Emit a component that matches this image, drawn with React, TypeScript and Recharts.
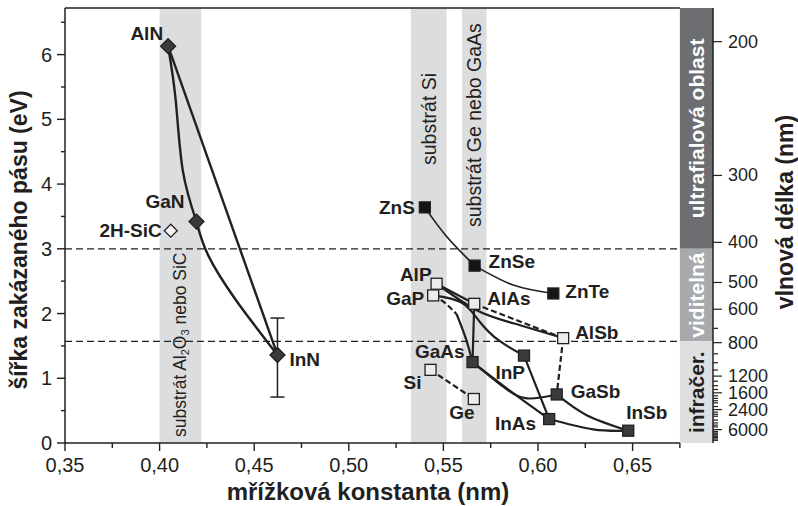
import React from "react";
import {
  ComposedChart,
  XAxis,
  YAxis,
  Line,
  Scatter,
  ErrorBar,
  ReferenceArea,
  ReferenceLine,
} from "recharts";

const INK = "#231f20";
const FONT = "'Liberation Sans', Arial, Helvetica, sans-serif";

type Pt = [number, number];

// materials: lattice constant (nm) vs band gap (eV)
const materials = ["AlN", "GaN", "2H-SiC", "InN", "ZnS", "ZnSe", "ZnTe", "AlP", "GaP", "AlAs", "AlSb", "GaAs", "InP", "GaSb", "InAs", "InSb", "Si", "Ge"];
const latticeNm = [0.4045, 0.4195, 0.4059, 0.4623, 0.5402, 0.5665, 0.6081, 0.5464, 0.5446, 0.5663, 0.6133, 0.5654, 0.5926, 0.6099, 0.6059, 0.6477, 0.5432, 0.5661];
const gapEv = [6.13, 3.42, 3.28, 1.36, 3.64, 2.74, 2.31, 2.46, 2.28, 2.15, 1.62, 1.25, 1.35, 0.75, 0.37, 0.19, 1.13, 0.68];

// InN band gap uncertainty (below, above)
const innErrEv: Pt = [0.65, 0.57];

// points (between the end compounds)
const alnGanPts: Pt[] = [[0.4085, 5.3], [0.4122, 4.22]];
const ganInnPts: Pt[] = [[0.4255, 2.91], [0.4403, 2.21]];
const znsZnsePts: Pt[] = [[0.5517, 3.19]];
const znseZntePts: Pt[] = [[0.5869, 2.44]];
const alpAlsbPts: Pt[] = [[0.5676, 2.05], [0.5869, 1.85]];
const gapGaasIndirect: Pt[] = [[0.5508, 2.165]];
const gapGaasBreak: Pt = [0.557, 1.99];
const gapGaasDirect: Pt[] = [[0.5618, 1.62]];
const gapInpPts: Pt[] = [[0.5598, 2.165], [0.5693, 1.87], [0.5795, 1.58]];
const gaasGasbPts: Pt[] = [[0.5816, 0.87], [0.594, 0.69]];
const gaasInasPts: Pt[] = [[0.5869, 0.77]];
const gasbInsbPts: Pt[] = [[0.6257, 0.43]];
const inasInsbPts: Pt[] = [[0.6292, 0.21]];

// substrate bands (nm)
const substrateFrom = [0.4, 0.5328, 0.5598];
const substrateTo = [0.422, 0.5517, 0.5728];

// spectral region edges (eV)
const uvEdgeEv = 3.0;
const irEdgeEv = 1.57;

const xTicks = [0.35, 0.375, 0.4, 0.425, 0.45, 0.475, 0.5, 0.525, 0.55, 0.575, 0.6, 0.625, 0.65, 0.675];
const yTicks = [0, 0.5, 1, 1.5, 2, 2.5, 3, 3.5, 4, 4.5, 5, 5.5, 6, 6.5];
const wlMajor = [200, 300, 400, 500, 600, 800, 1200, 1600, 2400, 6000];
const wlMinor = [700, 900, 1000, 1100, 1300, 1400, 1500, 1700, 1800, 1900, 2000, 2200, 2600, 2800, 3000, 3500, 4000, 4500, 5000, 7000, 8000, 9000, 10000, 12000, 15000, 20000, 30000];

const X_MIN = 0.35;
const X_PLOT_END = 0.675;
const X_MAX = 0.6925;
const Y_MAX = 6.72;

// --- styles (kept apart from data) ---
const markerKind: Record<string, string> = {
  AlN: "diamond", GaN: "diamond", InN: "diamond", "2H-SiC": "openDiamond",
  ZnS: "black", ZnSe: "black", ZnTe: "black",
  AlP: "open", GaP: "open", AlAs: "open", AlSb: "open", Si: "open", Ge: "open",
  GaAs: "dark", InP: "dark", GaSb: "dark", InAs: "dark", InSb: "dark",
};

const labelPlace: Record<string, [number, number, string]> = {
  AlN: [-5, -13, "end"],
  GaN: [-12, -20, "end"],
  "2H-SiC": [-9, 0, "end"],
  InN: [12, 5, "start"],
  ZnS: [-10, 0, "end"],
  ZnSe: [14, -4, "start"],
  ZnTe: [12, -2, "start"],
  AlP: [-5, -9, "end"],
  GaP: [-9, 3, "end"],
  AlAs: [13, -5, "start"],
  AlSb: [12, -6, "start"],
  GaAs: [-8, -11, "end"],
  Si: [-9, 13, "end"],
  Ge: [-12, 14, "middle"],
  InP: [1, 17, "end"],
  GaSb: [14, -3, "start"],
  InAs: [-13, 4, "end"],
  InSb: [-2, -18, "start"],
};

const at = (ref: string | Pt) => {
  if (typeof ref === "string") {
    const i = materials.indexOf(ref);
    return { x: latticeNm[i], y: gapEv[i] };
  }
  return { x: ref[0], y: ref[1] };
};

const path = (from: string | Pt, mid: Pt[], to: string | Pt) => [at(from), ...mid.map(at), at(to)];

const curves = [
  { d: path("AlN", alnGanPts, "GaN"), w: 2.4, dash: undefined, lin: false },
  { d: path("AlN", [], "InN"), w: 2.4, dash: undefined, lin: true },
  { d: path("GaN", ganInnPts, "InN"), w: 2.4, dash: undefined, lin: false },
  { d: path("ZnS", znsZnsePts, "ZnSe"), w: 1.7, dash: undefined, lin: false },
  { d: path("ZnSe", znseZntePts, "ZnTe"), w: 1.7, dash: undefined, lin: false },
  { d: path("AlP", [], "AlAs"), w: 2.2, dash: undefined, lin: true },
  { d: path("AlP", alpAlsbPts, "AlSb"), w: 2.2, dash: undefined, lin: false },
  { d: path("AlAs", [], "AlSb"), w: 2.2, dash: "6 3", lin: true },
  { d: path("GaP", gapGaasIndirect, gapGaasBreak), w: 2.2, dash: "6 3", lin: false },
  { d: path(gapGaasBreak, gapGaasDirect, "GaAs"), w: 2.2, dash: undefined, lin: false },
  { d: path("GaP", gapInpPts, "InP"), w: 2.2, dash: undefined, lin: false },
  { d: path("AlAs", [], "GaAs"), w: 2.2, dash: undefined, lin: true },
  { d: path("GaAs", gaasGasbPts, "GaSb"), w: 2.2, dash: undefined, lin: false },
  { d: path("GaAs", gaasInasPts, "InAs"), w: 2.2, dash: undefined, lin: false },
  { d: path("InP", [], "InAs"), w: 2.2, dash: undefined, lin: true },
  { d: path("AlSb", [], "GaSb"), w: 2.2, dash: "6 3", lin: true },
  { d: path("GaSb", gasbInsbPts, "InSb"), w: 2.2, dash: undefined, lin: false },
  { d: path("InAs", inasInsbPts, "InSb"), w: 2.2, dash: undefined, lin: false },
  { d: path("Si", [], "Ge"), w: 2.2, dash: "6 3", lin: true },
];

const pointData = materials.map((name, i) => ({ name, x: latticeNm[i], y: gapEv[i] }));
const innErrData = [{ x: latticeNm[3], y: gapEv[3], err: innErrEv }];

const isMult = (v: number, step: number) => Math.abs(v / step - Math.round(v / step)) < 1e-6;

const BottomTick = ({ x, y, payload }: any) => {
  const major = isMult(payload.value, 0.05);
  return (
    <g>
      <line x1={x} x2={x} y1={y} y2={y + (major ? 8 : 5)} stroke={INK} strokeWidth={1.4} />
      {major && (
        <text x={x} y={y + 29} textAnchor="middle" fontSize={20} fill={INK} fontFamily={FONT}>
          {payload.value.toFixed(2).replace(".", ",")}
        </text>
      )}
    </g>
  );
};

const TopTick = ({ x, y, payload }: any) => {
  const major = isMult(payload.value, 0.05);
  return <line x1={x} x2={x} y1={y} y2={y + (major ? 8 : 4)} stroke={INK} strokeWidth={1.4} />;
};

const LeftTick = ({ x, y, payload }: any) => {
  const major = isMult(payload.value, 1);
  return (
    <g>
      <line x1={x - (major ? 8 : 4)} x2={x} y1={y} y2={y} stroke={INK} strokeWidth={1.4} />
      {major && (
        <text x={x - 13} y={y} textAnchor="end" dominantBaseline="central" fontSize={20} fill={INK} fontFamily={FONT}>
          {payload.value}
        </text>
      )}
    </g>
  );
};

const RightTick = ({ x, y, payload }: any) => {
  const wl = Math.round(1240 / payload.value);
  const major = wlMajor.includes(wl);
  return (
    <g>
      <line x1={x} x2={x + (major ? 9 : 5)} y1={y} y2={y} stroke={INK} strokeWidth={1.2} />
      {major && (
        <text x={x + 15} y={y} dominantBaseline="central" fontSize={18} fill={INK} fontFamily={FONT}>
          {wl}
        </text>
      )}
    </g>
  );
};

const MaterialMark = (props: any) => {
  const { cx, cy, payload } = props;
  const kind = markerKind[payload.name];
  const [dx, dy, anchor] = labelPlace[payload.name];
  let mark: React.ReactNode = null;
  if (kind === "diamond" || kind === "openDiamond") {
    const r = kind === "diamond" ? 7.5 : 6.5;
    mark = (
      <polygon
        points={`${cx},${cy - r} ${cx + r},${cy} ${cx},${cy + r} ${cx - r},${cy}`}
        fill={kind === "diamond" ? "#3a3a3a" : "#f2f2f2"}
        stroke={INK}
        strokeWidth={1.3}
      />
    );
  } else {
    const s = 11;
    const fill = kind === "black" ? "#151515" : kind === "dark" ? "#3b3b3b" : "#ececec";
    mark = <rect x={cx - s / 2} y={cy - s / 2} width={s} height={s} fill={fill} stroke={INK} strokeWidth={1.3} />;
  }
  return (
    <g>
      {mark}
      <text
        x={cx + dx}
        y={cy + dy}
        textAnchor={anchor as any}
        dominantBaseline="central"
        fontSize={19}
        fontWeight="bold"
        fill={INK}
        fontFamily={FONT}
      >
        {payload.name}
      </text>
    </g>
  );
};

const bandLabel = (text: string, color: string) => (p: any) => {
  const { x, y, width, height } = p.viewBox;
  const cx = x + width / 2;
  const cy = y + height / 2;
  return (
    <text
      x={cx}
      y={cy}
      transform={`rotate(-90 ${cx} ${cy})`}
      textAnchor="middle"
      dominantBaseline="central"
      fontSize={21}
      fontWeight="bold"
      fill={color}
      fontFamily={FONT}
    >
      {text}
    </text>
  );
};

// substrate label: rotated, text starts at startY and runs upwards
const substrateLabel = (parts: [string, boolean][], startY: number, size: number) => (p: any) => {
  const { x, width } = p.viewBox;
  const cx = x + width / 2;
  return (
    <text
      x={cx}
      y={startY}
      transform={`rotate(-90 ${cx} ${startY})`}
      textAnchor="start"
      dominantBaseline="central"
      fontSize={size}
      fill={INK}
      fontFamily={FONT}
    >
      {parts.map(([t, sub], i) =>
        sub ? (
          <tspan key={i} fontSize={size * 0.63} dy={5}>
            {t}
          </tspan>
        ) : (
          <tspan key={i} dy={i > 0 && parts[i - 1][1] ? -5 : 0}>
            {t}
          </tspan>
        )
      )}
    </text>
  );
};

const axisTitle = (text: string, dx: number, dy: number, rotate: boolean, size: number) => (p: any) => {
  const { x, y } = p.viewBox;
  const cx = x + dx;
  const cy = y + dy;
  return (
    <text
      x={cx}
      y={cy}
      transform={rotate ? `rotate(-90 ${cx} ${cy})` : undefined}
      textAnchor="middle"
      dominantBaseline="central"
      fontSize={size}
      fontWeight="bold"
      fill={INK}
      fontFamily={FONT}
    >
      {text}
    </text>
  );
};

const App = () => (
  <div style={{ position: "absolute", left: 0, top: 0, background: "#fff" }}>
    <ComposedChart width={798} height={506} margin={{ top: 8, right: 0, bottom: 0, left: 0 }}>
      <XAxis
        type="number"
        dataKey="x"
        domain={[X_MIN, X_MAX]}
        ticks={xTicks}
        interval={0}
        allowDataOverflow
        height={63}
        axisLine={false}
        tickLine={false}
        tickSize={0}
        tickMargin={0}
        tick={BottomTick}
        label={axisTitle("mřížková konstanta (nm)", 303, 48, false, 24)}
      />
      <XAxis
        xAxisId="top"
        orientation="top"
        type="number"
        dataKey="x"
        domain={[X_MIN, X_MAX]}
        ticks={xTicks}
        interval={0}
        allowDataOverflow
        height={0}
        axisLine={false}
        tickLine={false}
        tickSize={0}
        tickMargin={0}
        tick={TopTick}
      />
      <YAxis
        type="number"
        domain={[0, Y_MAX]}
        ticks={yTicks}
        interval={0}
        allowDataOverflow
        width={65}
        axisLine={{ stroke: INK, strokeWidth: 1.5 }}
        tickLine={false}
        tickSize={0}
        tickMargin={0}
        tick={LeftTick}
        label={axisTitle("šířka zakázaného pásu (eV)", 19, 232, true, 23)}
      />
      <YAxis
        yAxisId="right"
        orientation="right"
        type="number"
        domain={[0, Y_MAX]}
        ticks={[...wlMajor, ...wlMinor].map((l) => 1240 / l)}
        interval={0}
        allowDataOverflow
        width={85}
        axisLine={{ stroke: INK, strokeWidth: 1.5 }}
        tickLine={false}
        tickSize={0}
        tickMargin={0}
        tick={RightTick}
        label={axisTitle("vlnová délka (nm)", 72, 204, true, 23)}
      />

      <ReferenceArea
        x1={substrateFrom[0]}
        x2={substrateTo[0]}
        fill="#dcdddf"
        fillOpacity={1}
        stroke="none"
        label={substrateLabel([["substrát Al", false], ["2", true], ["O", false], ["3", true], [" nebo SiC", false]], 437, 17.5)}
      />
      <ReferenceArea
        x1={substrateFrom[1]}
        x2={substrateTo[1]}
        fill="#dcdddf"
        fillOpacity={1}
        stroke="none"
        label={substrateLabel([["substrát Si", false]], 165, 19.5)}
      />
      <ReferenceArea
        x1={substrateFrom[2]}
        x2={substrateTo[2]}
        fill="#dcdddf"
        fillOpacity={1}
        stroke="none"
        label={substrateLabel([["substrát Ge nebo GaAs", false]], 227, 19.5)}
      />

      <ReferenceArea x1={X_PLOT_END} x2={X_MAX} y1={uvEdgeEv} y2={Y_MAX} fill="#6d6e71" fillOpacity={1} stroke="none" label={bandLabel("ultrafialová oblast", "#ffffff")} />
      <ReferenceArea x1={X_PLOT_END} x2={X_MAX} y1={irEdgeEv} y2={uvEdgeEv} fill="#a7a9ac" fillOpacity={1} stroke="none" label={bandLabel("viditelná", "#ffffff")} />
      <ReferenceArea x1={X_PLOT_END} x2={X_MAX} y1={0} y2={irEdgeEv} fill="#dedfe0" fillOpacity={1} stroke="none" label={bandLabel("infračer.", INK)} />

      <ReferenceLine segment={[{ x: X_MIN, y: uvEdgeEv }, { x: X_PLOT_END, y: uvEdgeEv }]} stroke={INK} strokeWidth={1.3} strokeDasharray="7 4" />
      <ReferenceLine segment={[{ x: X_MIN, y: irEdgeEv }, { x: X_PLOT_END, y: irEdgeEv }]} stroke={INK} strokeWidth={1.3} strokeDasharray="7 4" />
      <ReferenceLine segment={[{ x: X_MIN, y: 0 }, { x: X_PLOT_END, y: 0 }]} stroke={INK} strokeWidth={1.5} />
      <ReferenceLine segment={[{ x: X_MIN, y: Y_MAX }, { x: X_PLOT_END, y: Y_MAX }]} stroke={INK} strokeWidth={1.5} />

      {curves.map((c, i) => (
        <Line
          key={i}
          data={c.d}
          dataKey="y"
          type={c.lin ? "linear" : "natural"}
          stroke={INK}
          strokeWidth={c.w}
          strokeDasharray={c.dash}
          dot={false}
          activeDot={false}
          isAnimationActive={false}
        />
      ))}

      <Scatter data={innErrData} dataKey="y" shape={() => <g />} isAnimationActive={false}>
        <ErrorBar dataKey="err" direction="y" width={7} stroke={INK} strokeWidth={1.5} isAnimationActive={false} />
      </Scatter>
      <Scatter data={pointData} dataKey="y" shape={MaterialMark} isAnimationActive={false} />
    </ComposedChart>
  </div>
);

export default App;
